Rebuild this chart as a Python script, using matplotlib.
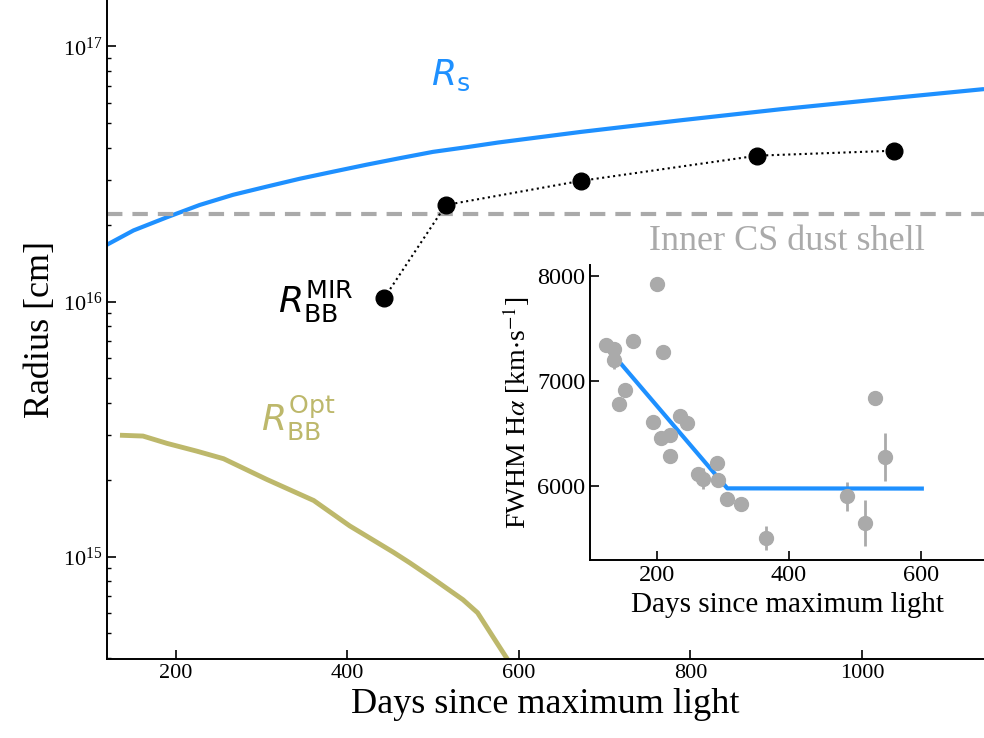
import numpy as np
import matplotlib
matplotlib.use("Agg")
import matplotlib.pyplot as plt

plt.rcParams['font.family'] = ['Liberation Serif', 'DejaVu Serif']
plt.rcParams['mathtext.fontset'] = 'stix'

# ---------------- data ----------------
# shock radius R_s (cm) vs days
rs_days = [120, 151, 190, 228, 267, 306, 345, 384, 423, 462, 500, 540,
           576, 672, 788, 905, 1022, 1140]
rs_radius = [1.67e16, 1.90e16, 2.14e16, 2.39e16, 2.62e16, 2.82e16,
             3.03e16, 3.23e16, 3.44e16, 3.65e16, 3.86e16, 4.03e16,
             4.20e16, 4.62e16, 5.13e16, 5.67e16, 6.21e16, 6.79e16]

# inner circumstellar dust shell radius
shell_radius = 2.21e16

# mid-IR blackbody radius
mir_days = [443, 515, 672, 878, 1037]
mir_radius = [1.03e16, 2.39e16, 2.97e16, 3.73e16, 3.90e16]

# optical blackbody radius
opt_days = [138, 162, 190, 225, 256, 306, 361, 403, 454, 473, 497,
            535, 552, 570, 585, 595]
opt_radius = [2.99e15, 2.97e15, 2.78e15, 2.59e15, 2.42e15, 2.01e15,
              1.66e15, 1.32e15, 1.04e15, 9.46e14, 8.34e14, 6.78e14,
              6.03e14, 4.85e14, 4.05e14, 3.6e14]

# inset: FWHM of H-alpha
fwhm_days = [124, 135, 136, 164, 153, 143, 200, 210, 195, 207, 220, 221,
             235, 246, 262, 270, 291, 293, 307, 327, 365, 488, 515, 530, 545]
fwhm_vals = [7349, 7311, 7206, 7381, 6914, 6787, 7921, 7279, 6613, 6460,
             6486, 6289, 6670, 6606, 6121, 6073, 6225, 6063, 5883, 5835,
             5511, 5905, 5651, 6844, 6279]
fwhm_err = [40, 40, 90, 40, 40, 40, 40, 40, 40, 40, 40, 40,
            40, 40, 40, 100, 40, 40, 40, 40, 110, 140, 220, 40, 225]

# broken-line fit
fit_days = [123, 307, 601]
fit_vals = [7337, 5982, 5980]

blue = '#1e90ff'
gray = '#aaaaaa'
khaki = '#bdb86b'

# ---------------- main plot ----------------
fig = plt.figure(figsize=(9.84, 7.38), dpi=100)
ax = fig.add_axes([0.1087, 0.107, 0.891, 0.893])

ax.plot(rs_days, rs_radius, color=blue, lw=3)
ax.axhline(shell_radius, color=gray, lw=3, ls=(0, (3.7, 2.4)))
ax.plot(mir_days, mir_radius, 'k:', lw=1.5)
ax.plot(mir_days, mir_radius, 'ko', ms=12, ls='none')
ax.plot(opt_days, opt_radius, color=khaki, lw=3.5)

ax.set_yscale('log')
ax.set_xlim(120, 1142)
ax.set_ylim(3.97e14, 1.52e17)
ax.set_xticks([200, 400, 600, 800, 1000])

ax.text(913, 1.72e16, 'Inner CS dust shell', color=gray, fontsize=26,
        ha='center', va='center')
ax.text(520, 7.7e16, r'$R_\mathrm{s}$', color=blue, fontsize=26,
        ha='center', va='center', math_fontfamily='dejavusans')
ax.text(364, 1.0e16, r'$R_\mathrm{BB}^\mathrm{MIR}$', color='k', fontsize=26,
        ha='center', va='center', math_fontfamily='dejavusans')
ax.text(343, 3.5e15, r'$R_\mathrm{BB}^\mathrm{Opt}$', color=khaki, fontsize=26,
        ha='center', va='center', math_fontfamily='dejavusans')

ax.set_xlabel('Days since maximum light', fontsize=26)
ax.set_ylabel('Radius [cm]', fontsize=26)
ax.spines['top'].set_visible(False)
ax.spines['right'].set_visible(False)
for s in ['left', 'bottom']:
    ax.spines[s].set_linewidth(1.4)
ax.tick_params(which='major', direction='in', length=6.5, width=1.2, labelsize=16)
ax.tick_params(which='minor', direction='in', length=3, width=1.0)
ax.tick_params(axis='x', which='minor', bottom=False)

# ---------------- inset ----------------
ins = fig.add_axes([0.600, 0.241, 0.400, 0.400])
ins.errorbar(fwhm_days, fwhm_vals, yerr=fwhm_err, fmt='o', color=gray,
             ms=10, elinewidth=2, capsize=0)
ins.plot(fit_days, fit_vals, color=blue, lw=3)
ins.set_xlim(100, 695)
ins.set_ylim(5300, 8105)
ins.set_xticks([200, 400, 600])
ins.set_yticks([6000, 7000, 8000])
ins.set_xlabel('Days since maximum light', fontsize=21)
ins.set_ylabel(r'FWHM H$\alpha$ [km$\cdot$s$^{-1}$]', fontsize=20)
ins.spines['top'].set_visible(False)
ins.spines['right'].set_visible(False)
for s in ['left', 'bottom']:
    ins.spines[s].set_linewidth(1.4)
ins.tick_params(direction='in', length=6.5, width=1.2, labelsize=17.5)

fig.savefig('out.png', dpi=100)
